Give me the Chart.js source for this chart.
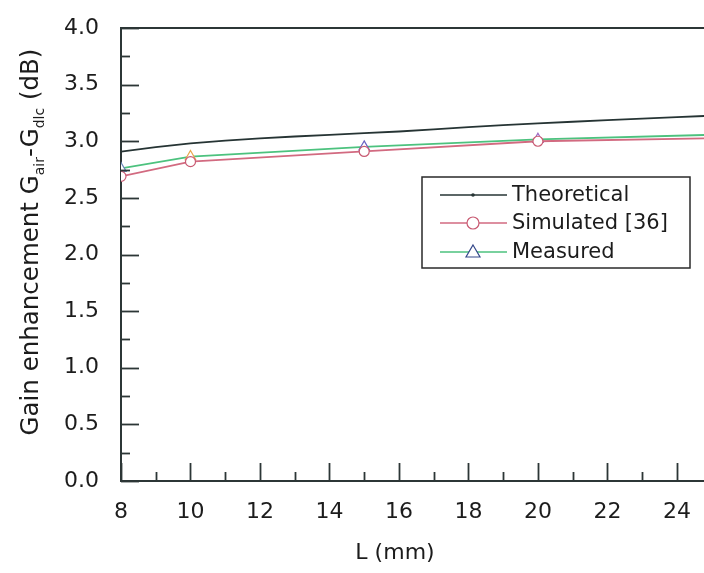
<!DOCTYPE html>
<html>
<head>
<meta charset="utf-8">
<script src="https://cdn.jsdelivr.net/npm/chart.js@4/dist/chart.umd.min.js"></script>
<style>
  html, body { margin: 0; padding: 0; background: #ffffff; }
  canvas { display: block; }
</style>
</head>
<body>
<canvas id="gainChart" width="704" height="573"></canvas>
<script>
// Patch length L (mm) and gain enhancement (dB)
const lengthTheory = [8, 9, 10, 11, 12, 13, 14, 15, 16, 17, 18, 19, 20, 21, 22, 23, 24, 25];
const theoretical = [2.908, 2.948, 2.982, 3.005, 3.025, 3.042, 3.057, 3.071, 3.086, 3.104, 3.124, 3.143, 3.158, 3.172, 3.186, 3.200, 3.213, 3.226];

const lengthSamples = [8, 10, 15, 20, 25];
const simulated = [2.69, 2.82, 2.91, 3.00, 3.027];
const measured = [2.76, 2.865, 2.95, 3.017, 3.057];

const seriesNames = ['Theoretical', 'Simulated [36]', 'Measured'];
const xTickValues = [8, 10, 12, 14, 16, 18, 20, 22, 24];
const yTickValues = [0, 0.5, 1.0, 1.5, 2.0, 2.5, 3.0, 3.5, 4.0];

const FONT = '"DejaVu Sans", "Liberation Sans", Arial, sans-serif';
const INK = '#1c1c1c';
const AXIS = '#2c3636';

const colors = {
  theory: '#263434',
  simLine: '#d26a80',
  simMarker: '#c85a72',
  measLine: '#4cc27e',
  measMarkers: ['#6a86b8', '#e8a64a', '#6a62c4', '#9a64c2', '#9a64c2'],
  measLegend: '#34488a'
};

const toPoints = (xs, ys) => xs.map((x, i) => ({ x: x, y: ys[i] }));

// Inward major/minor ticks, top frame line, axis titles and boxed legend
const decorations = {
  id: 'decorations',
  afterDatasetsDraw(chart) {
    const { ctx, chartArea: area, scales: { x, y } } = chart;
    ctx.save();
    ctx.strokeStyle = AXIS;
    ctx.lineWidth = 2;
    ctx.lineCap = 'butt';

    // top frame
    ctx.beginPath();
    ctx.moveTo(area.left - 1, area.top);
    ctx.lineTo(area.right, area.top);
    ctx.stroke();

    // x ticks: long at even L, short at odd L
    ctx.lineWidth = 1.8;
    for (let v = x.min; v <= x.max + 1e-9; v += 1) {
      const px = Math.round(x.getPixelForValue(v)) + 0.5;
      const len = (Math.round(v) % 2 === 0) ? 18 : 9;
      ctx.beginPath();
      ctx.moveTo(px, area.bottom);
      ctx.lineTo(px, area.bottom - len);
      ctx.stroke();
    }
    // y ticks: long every 0.5, short in between
    for (let k = 0; k <= 16; k++) {
      const v = k * 0.25;
      const py = Math.round(y.getPixelForValue(v)) + 0.5;
      const len = (k % 2 === 0) ? 18 : 9;
      ctx.beginPath();
      ctx.moveTo(area.left, py);
      ctx.lineTo(area.left + len, py);
      ctx.stroke();
    }

    // x axis title
    ctx.fillStyle = INK;
    ctx.font = '22px ' + FONT;
    ctx.textAlign = 'center';
    ctx.textBaseline = 'middle';
    ctx.fillText('L (mm)', 395, 553);

    // y axis title with subscripts
    const parts = [
      { t: 'Gain enhancement G', sub: false },
      { t: 'air', sub: true },
      { t: '-G', sub: false },
      { t: 'dlc', sub: true },
      { t: ' (dB)', sub: false }
    ];
    const mainFont = '24.5px ' + FONT;
    const subFont = '14px ' + FONT;
    let total = 0;
    parts.forEach(p => { ctx.font = p.sub ? subFont : mainFont; p.w = ctx.measureText(p.t).width; total += p.w; });
    ctx.translate(38, 242);
    ctx.rotate(-Math.PI / 2);
    ctx.textBaseline = 'alphabetic';
    ctx.textAlign = 'left';
    let cx = -total / 2;
    parts.forEach(p => {
      ctx.font = p.sub ? subFont : mainFont;
      ctx.fillText(p.t, cx, p.sub ? 6 : 0);
      cx += p.w;
    });
    ctx.restore();

    // legend box
    ctx.save();
    const box = { l: 422, t: 177, r: 690, b: 268 };
    ctx.fillStyle = '#ffffff';
    ctx.fillRect(box.l, box.t, box.r - box.l, box.b - box.t);
    ctx.strokeStyle = '#2a2a2a';
    ctx.lineWidth = 1.5;
    ctx.strokeRect(box.l, box.t, box.r - box.l, box.b - box.t);
    const rows = [195, 223, 252];
    const x0 = 440, x1 = 507, xm = 473;
    chart.data.datasets.forEach((ds, i) => {
      const ry = rows[i];
      ctx.strokeStyle = ds.borderColor;
      ctx.lineWidth = 1.4;
      ctx.beginPath();
      ctx.moveTo(x0, ry);
      ctx.lineTo(x1, ry);
      ctx.stroke();
      if (i === 0) {
        ctx.fillStyle = ds.borderColor;
        ctx.beginPath();
        ctx.arc(xm, ry, 1.8, 0, Math.PI * 2);
        ctx.fill();
      } else if (i === 1) {
        ctx.fillStyle = '#ffffff';
        ctx.strokeStyle = colors.simMarker;
        ctx.lineWidth = 1.2;
        ctx.beginPath();
        ctx.arc(xm, ry, 6, 0, Math.PI * 2);
        ctx.fill();
        ctx.stroke();
      } else {
        ctx.fillStyle = '#ffffff';
        ctx.strokeStyle = colors.measLegend;
        ctx.lineWidth = 1.2;
        ctx.beginPath();
        ctx.moveTo(xm, ry - 7);
        ctx.lineTo(xm + 7, ry + 5);
        ctx.lineTo(xm - 7, ry + 5);
        ctx.closePath();
        ctx.fill();
        ctx.stroke();
      }
      ctx.fillStyle = INK;
      ctx.font = '21px ' + FONT;
      ctx.textBaseline = 'middle';
      ctx.textAlign = 'left';
      ctx.fillText(seriesNames[i], 512, ry + 1);
    });
    ctx.restore();
  }
};

const noClip = { left: 0, top: 0, right: 0, bottom: 0 };

new Chart(document.getElementById('gainChart'), {
  type: 'line',
  data: {
    datasets: [
      {
        label: seriesNames[0],
        data: toPoints(lengthTheory, theoretical),
        borderColor: colors.theory,
        borderWidth: 1.8,
        pointRadius: 0,
        tension: 0,
        clip: noClip
      },
      {
        label: seriesNames[1],
        data: toPoints(lengthSamples, simulated),
        borderColor: colors.simLine,
        borderWidth: 1.8,
        pointStyle: 'circle',
        pointRadius: 5,
        pointBorderWidth: 1.2,
        pointBorderColor: colors.simMarker,
        pointBackgroundColor: '#ffffff',
        tension: 0,
        clip: noClip
      },
      {
        label: seriesNames[2],
        data: toPoints(lengthSamples, measured),
        borderColor: colors.measLine,
        borderWidth: 1.8,
        pointStyle: 'triangle',
        pointRadius: 6,
        pointBorderWidth: 1.2,
        pointBorderColor: colors.measMarkers,
        pointBackgroundColor: '#ffffff',
        tension: 0,
        clip: noClip
      }
    ]
  },
  options: {
    responsive: false,
    animation: false,
    events: [],
    layout: { autoPadding: false, padding: { top: 28, right: 0, left: 0, bottom: 0 } },
    plugins: {
      legend: { display: false },
      tooltip: { enabled: false },
      title: { display: false }
    },
    scales: {
      x: {
        type: 'linear',
        position: 'bottom',
        min: 8,
        max: 24.78,
        afterBuildTicks: (scale) => { scale.ticks = xTickValues.map(v => ({ value: v })); },
        afterFit: (scale) => { scale.height = 92; scale.paddingLeft = 0; scale.paddingRight = 0; },
        grid: { display: false, drawTicks: false },
        border: { display: true, color: AXIS, width: 2 },
        ticks: {
          padding: 18,
          color: INK,
          font: { family: FONT, size: 22 },
          maxRotation: 0,
          autoSkip: false,
          callback: (v) => String(v)
        }
      },
      y: {
        type: 'linear',
        min: 0,
        max: 4,
        afterBuildTicks: (scale) => { scale.ticks = yTickValues.map(v => ({ value: v })); },
        afterFit: (scale) => { scale.width = 121; scale.paddingTop = 0; scale.paddingBottom = 0; },
        grid: { display: false, drawTicks: false },
        border: { display: true, color: AXIS, width: 2 },
        ticks: {
          padding: 22,
          color: INK,
          font: { family: FONT, size: 22 },
          autoSkip: false,
          callback: (v) => Number(v).toFixed(1)
        }
      }
    }
  },
  plugins: [decorations]
});
</script>
</body>
</html>
